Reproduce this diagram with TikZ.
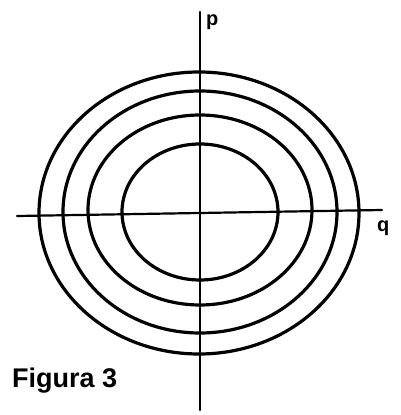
\documentclass[tikz,border=0pt]{standalone}
\usepackage{fontspec}
\setmainfont{Liberation Sans}
\begin{document}
\begin{tikzpicture}[x=1pt, y=1pt, line cap=round, line join=round,
    axis/.style={line width=2.2pt},
    orbit/.style={line width=3.2pt},
    lbl/.style={inner sep=0pt, outer sep=0pt, font=\fontsize{20}{20}\selectfont\bfseries}]
  \useasboundingbox (-200,-202) rectangle (201,213);
  \coordinate (yb) at (0,-197);
  \coordinate (yt) at (0,201);
  \coordinate (xl) at (-183,-3);
  \coordinate (xr) at (182,3);
  \draw[axis] (yb) -- (yt);
  \draw[axis] (xl) -- (xr);
  \node[lbl, anchor=base west] (p) at (6,187) {p};
  \node[lbl, anchor=base west] (q) at (177,-19) {q};
  \draw[orbit] (-1,0) ellipse [x radius=160, y radius=141];
  \draw[orbit] (0,1) ellipse [x radius=137, y radius=121];
  \draw[orbit] (0,3) ellipse [x radius=112, y radius=95];
  \draw[orbit] (0,1) ellipse [x radius=78, y radius=68];
  \node[anchor=base west, inner sep=0pt, font=\fontsize{27}{27}\selectfont\bfseries] (fig) at (-188,-174) {Figura 3};
\end{tikzpicture}
\end{document}
